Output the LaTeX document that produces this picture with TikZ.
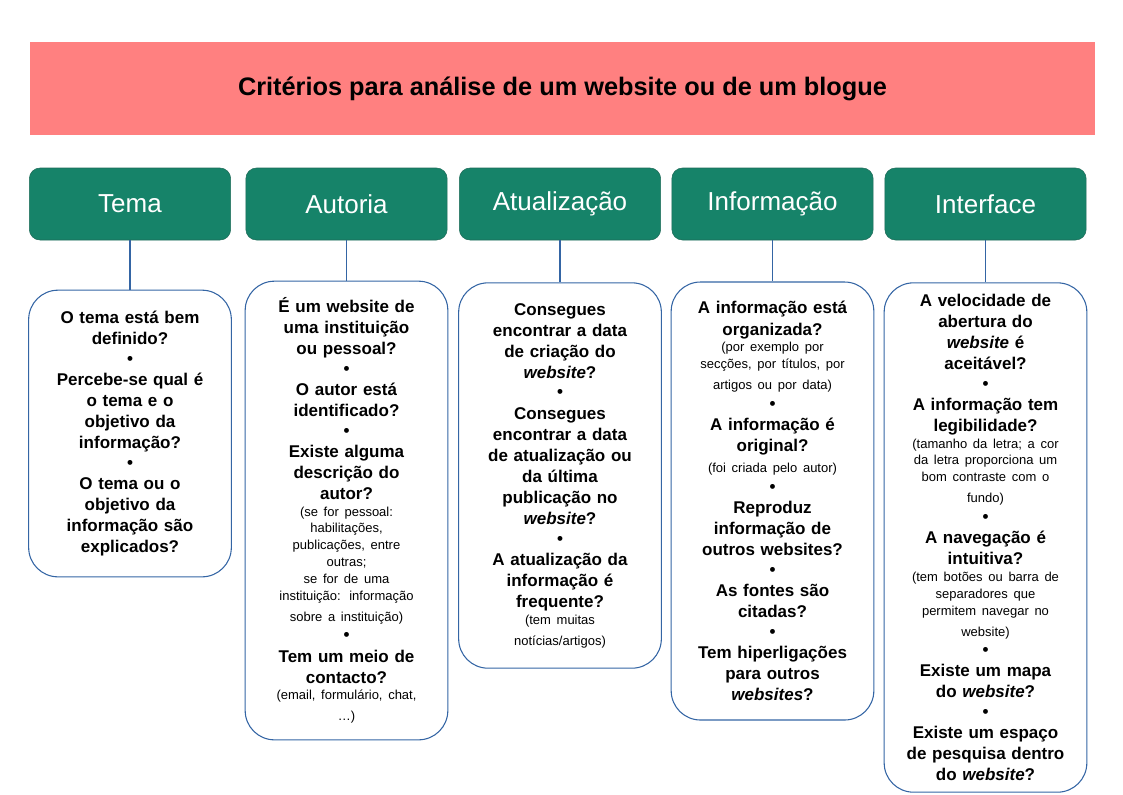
\documentclass[tikz,border=0pt]{standalone}
\usepackage{fontspec}
\setmainfont{Liberation Sans}
\definecolor{titlered}{HTML}{FF8080}
\definecolor{hgreen}{HTML}{168369}
\definecolor{hborder}{HTML}{1E6B58}
\definecolor{bblue}{HTML}{3465A4}
\newcommand{\bl}{\\[-1pt]•\\}
\newcommand{\sm}[1]{{\fontsize{9.75}{12.6}\selectfont\mdseries #1}}
\begin{document}
\begin{tikzpicture}[x=0.75pt,y=-0.75pt,
  hdr/.style={draw=hborder,fill=hgreen,rounded corners=8pt,minimum width=151pt,minimum height=54pt,text=white,font=\fontsize{19.5}{22}\selectfont,inner sep=0pt},
  cbox/.style={draw=bblue,line width=0.8pt,rounded corners=22pt,text width=138pt,align=center,minimum width=152pt,font=\fontsize{12.75}{15.8}\selectfont\bfseries},
  lnk/.style={draw=bblue,line width=0.8pt}]
\useasboundingbox (0,0) rectangle (1123,794);
\node[fill=titlered,minimum width=798.75pt,minimum height=69.75pt,inner sep=0pt,font=\fontsize{19}{22}\selectfont\bfseries] (title) at (562.5,88.5) {Critérios para análise de um website ou de um blogue};
\node[hdr] (h1) at (130,204) {Tema};
\node[hdr] (h2) at (346.5,204) {Autoria};
\node[hdr] (h3) at (560,204) {Atualização};
\node[hdr] (h4) at (772.5,204) {Informação};
\node[hdr] (h5) at (985.5,204) {Interface};
\node[cbox,minimum height=215pt] (c1) at (130,433.5) {O tema está bem\\definido?\bl Percebe-se qual é\\o tema e o\\objetivo da\\informação?\bl O tema ou o\\objetivo da\\informação são\\explicados?};
\node[cbox,minimum height=344pt] (c2) at (346.5,510.5) {É um website de\\uma instituição\\ou pessoal?\bl O autor está\\identificado?\bl Existe alguma\\descrição do\\autor?\\\sm{(se for pessoal:\\habilitações,\\publicações, entre\\outras;\\se for de uma\\instituição: informação\\sobre a instituição)}\\[-1pt]•\\Tem um meio de\\contacto?\\\sm{(email, formulário, chat,\\…)}};
\node[cbox,minimum height=289pt] (c3) at (560,475.5) {Consegues\\encontrar a data\\de criação do\\\textit{website}?\bl Consegues\\encontrar a data\\de atualização ou\\da última\\publicação no\\\textit{website}?\bl A atualização da\\informação é\\frequente?\\\sm{(tem muitas\\notícias/artigos)}};
\node[cbox,minimum height=328.5pt] (c4) at (772.5,501) {A informação está\\organizada?\\\sm{(por exemplo por\\secções, por títulos, por\\artigos ou por data)}\\[-1pt]•\\A informação é\\original?\\\sm{(foi criada pelo autor)}\\[-1pt]•\\Reproduz\\informação de\\outros websites?\bl As fontes são\\citadas?\bl Tem hiperligações\\para outros\\\textit{websites}?};
\node[cbox,minimum height=382pt] (c5) at (985.5,537.5) {A velocidade de\\abertura do\\\textit{website} é\\aceitável?\bl A informação tem\\legibilidade?\\\sm{(tamanho da letra; a cor\\da letra proporciona um\\bom contraste com o\\fundo)}\\[-1pt]•\\A navegação é\\intuitiva?\\\sm{(tem botões ou barra de\\separadores que\\permitem navegar no\\website)}\\[-1pt]•\\Existe um mapa\\do \textit{website}?\bl Existe um espaço\\de pesquisa dentro\\do \textit{website}?};
\foreach \i in {1,...,5} \draw[lnk] (h\i.south) -- (c\i.north);
\end{tikzpicture}
\end{document}
